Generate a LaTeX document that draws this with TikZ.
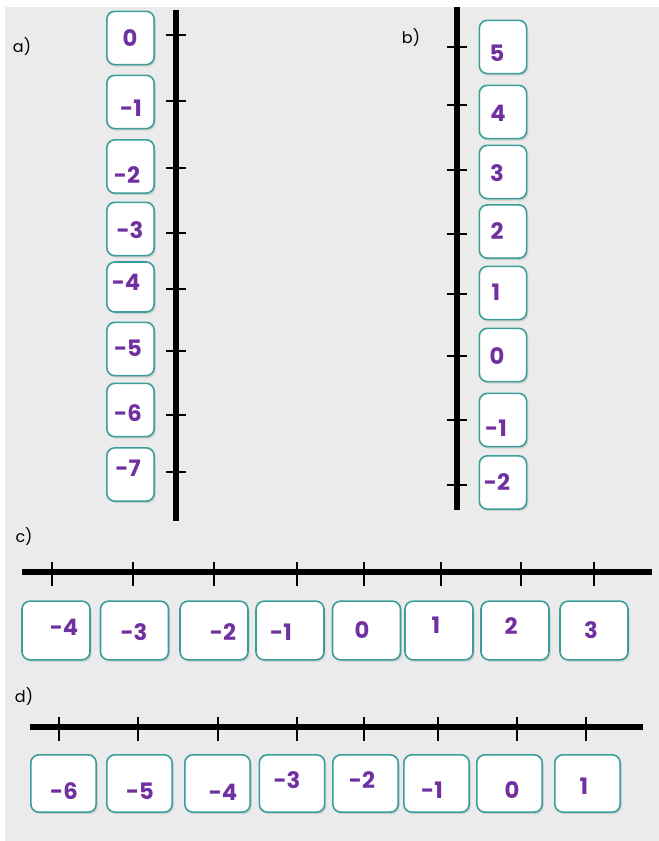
\documentclass[tikz,border=0pt]{standalone}
\usepackage{fontspec}
\setmainfont{Poppins}
\usepackage{xcolor}
\usepackage{tikz}
\usetikzlibrary{shadows}
\definecolor{numpurple}{HTML}{7030A0}
\definecolor{cardteal}{HTML}{3A9E9A}
\definecolor{sheetgrey}{HTML}{EBEBEB}

\begin{document}
\begin{tikzpicture}[x=0.75pt,y=-0.75pt,
card/.style={draw=cardteal,line width=1.2pt,fill=white,rounded corners=6pt,
drop shadow={shadow xshift=1.2pt,shadow yshift=-1.5pt,opacity=0.25}},
vcard/.style={card,minimum width=35.5pt,minimum height=40pt},
hcard/.style={card,minimum width=51pt,minimum height=44pt},
dcard/.style={card,minimum width=49pt,minimum height=43pt},
num/.style={text=numpurple,font=\fontsize{17}{17}\selectfont\bfseries,inner sep=0pt},
part/.style={font=\fontsize{12}{12}\selectfont,inner sep=0pt},
axis/.style={line width=3.9pt},
tick/.style={line width=2pt}]
\useasboundingbox (0,0) rectangle (659,841);
\fill[white](0,0) rectangle (659,841);
\fill[sheetgrey](5,7) rectangle (659,841);

% a) vertical line, negatives
\node[part] (pa) at (22,47) {a)};
\draw[axis](176,10)--(176,521);
\draw[tick](166,35)--(186,35)
(166,101)--(186,101)
(166,168)--(186,168)
(166,233)--(186,233)
(166,289)--(186,289)
(166,351)--(186,351)
(166,415)--(186,415)
(166,472)--(186,472);
\node[vcard] (a0) at (130.5,38) {};
\node[vcard] (a1) at (130.5,102) {};
\node[vcard] (a2) at (130.5,166.5) {};
\node[vcard] (a3) at (130.5,229) {};
\node[vcard,minimum height=37.5pt] (a4) at (130.5,287) {};
\node[vcard] (a5) at (130.5,349) {};
\node[vcard] (a6) at (130.5,410) {};
\node[vcard] (a7) at (130.5,474.5) {};
\node[num] (na0) at (130,38) {0};
\node[num] (na1) at (131,108) {-1};
\node[num] (na2) at (127,175) {-2};
\node[num] (na3) at (130,230) {-3};
\node[num] (na4) at (126,282) {-4};
\node[num] (na5) at (128,348) {-5};
\node[num] (na6) at (128,413) {-6};
\node[num] (na7) at (128,468) {-7};

% b) vertical line, 5 down to -2
\node[part] (pb) at (411,38) {b)};
\draw[axis](457,7)--(457,510);
\draw[tick](447,47)--(467,47)
(447,105)--(467,105)
(447,170)--(467,170)
(447,234)--(467,234)
(447,294)--(467,294)
(447,356)--(467,356)
(447,420)--(467,420)
(447,485)--(467,485);
\node[vcard] (b5) at (503,47) {};
\node[vcard] (b4) at (503,112) {};
\node[vcard] (b3) at (503,172) {};
\node[vcard] (b2) at (503,231.5) {};
\node[vcard] (b1) at (503,293) {};
\node[vcard] (b0) at (503,355) {};
\node[vcard] (bm1) at (503,420) {};
\node[vcard] (bm2) at (503,482.5) {};
\node[num] (nb5) at (497,53) {5};
\node[num] (nb4) at (498,113) {4};
\node[num] (nb3) at (497,173) {3};
\node[num] (nb2) at (497,231) {2};
\node[num] (nb1) at (496,292) {1};
\node[num] (nb0) at (497,356) {0};
\node[num] (nbm1) at (496,428) {-1};
\node[num] (nbm2) at (497,482) {-2};

% c) horizontal line, -4 to 3
\node[part] (pc) at (24,537) {c)};
\draw[axis](22,572)--(652,572);
\draw[tick](52,562)--(52,586)
(133,562)--(133,586)
(214,562)--(214,586)
(297,562)--(297,586)
(364,562)--(364,586)
(441,562)--(441,586)
(521,562)--(521,586)
(594,562)--(594,586);
\node[hcard] (cm4) at (56,630.5) {};
\node[hcard] (cm3) at (134.5,630.5) {};
\node[hcard] (cm2) at (214,630.5) {};
\node[hcard] (cm1) at (290,630.5) {};
\node[hcard] (c0) at (366.5,630.5) {};
\node[hcard] (c1) at (439,630.5) {};
\node[hcard] (c2) at (515,630.5) {};
\node[hcard] (c3) at (594,630.5) {};
\node[num] (ncm4) at (64,627) {-4};
\node[num] (ncm3) at (134,632) {-3};
\node[num] (ncm2) at (223,632) {-2};
\node[num] (ncm1) at (281,632) {-1};
\node[num] (nc0) at (362,630) {0};
\node[num] (nc1) at (436,625) {1};
\node[num] (nc2) at (511,626) {2};
\node[num] (nc3) at (591,630) {3};

% d) horizontal line, -6 to 1
\node[part] (pd) at (24,697) {d)};
\draw[axis](30,727)--(643,727);
\draw[tick](59,717)--(59,741)
(138,717)--(138,741)
(218,717)--(218,741)
(297,717)--(297,741)
(364,717)--(364,741)
(438,717)--(438,741)
(517,717)--(517,741)
(586,717)--(586,741);
\node[dcard] (dm6) at (63.5,783.5) {};
\node[dcard] (dm5) at (139.5,783.5) {};
\node[dcard] (dm4) at (217.5,783.5) {};
\node[dcard] (dm3) at (292,783.5) {};
\node[dcard] (dm2) at (365.5,783.5) {};
\node[dcard] (dm1) at (436.5,783.5) {};
\node[dcard] (d0) at (509.5,783.5) {};
\node[dcard] (d1) at (587.5,783.5) {};
\node[num] (ndm6) at (64,791) {-6};
\node[num] (ndm5) at (140,791) {-5};
\node[num] (ndm4) at (223,792) {-4};
\node[num] (ndm3) at (287,780) {-3};
\node[num] (ndm2) at (362,780) {-2};
\node[num] (ndm1) at (432,790) {-1};
\node[num] (nd0) at (512,790) {0};
\node[num] (nd1) at (584,786) {1};
\end{tikzpicture}
\end{document}
